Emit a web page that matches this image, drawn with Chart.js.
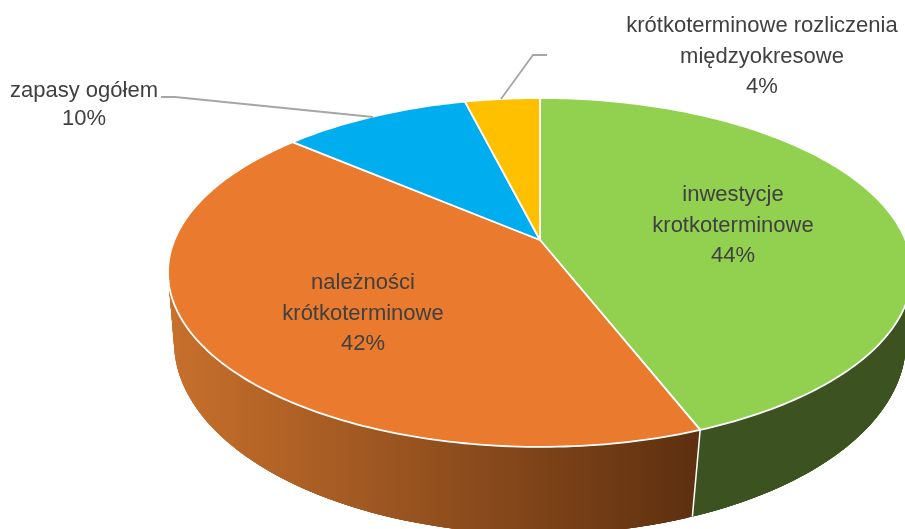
<!DOCTYPE html>
<html><head><meta charset="utf-8">
<script src="https://cdn.jsdelivr.net/npm/chart.js@4"></script>
<style>html,body{margin:0;padding:0;background:#fff}canvas{display:block}</style>
</head><body>
<canvas id="c" width="905" height="529"></canvas>
<script>
const categories = [
  ['inwestycje', 'krotkoterminowe'],
  ['należności', 'krótkoterminowe'],
  ['zapasy ogółem'],
  ['krótkoterminowe rozliczenia', 'międzyokresowe']
];
const shares = [44.1, 42.2, 9.8, 3.9];
const faceColors = ['#92D050', '#E97A2E', '#00ADEF', '#FFC000'];
const wallFrom = ['#3C5220', '#C8702C', '#006C96', '#A07800'];
const wallTo   = ['#3C5220', '#5E3010', '#006C96', '#A07800'];

const labelAnchors = [
  {x: 733, y: 195, step: 30.5},
  {x: 363, y: 283, step: 30.5},
  {x: 84,  y: 91,  step: 28},
  {x: 762, y: 26,  step: 30.5}
];
const leaderLines = [
  [[161, 97], [175, 97], [373, 117]],
  [[547, 55], [533, 55], [501, 99]]
];
const view = {
  top:    {persp: -0.186, rx: 2.574, ry: 1.186, dy: 0},
  bottom: {persp: -0.150, rx: 2.548, ry: 1.322, dy: 73.2}
};

function project(arc, angle, layer) {
  const r = arc.outerRadius, u = Math.cos(angle), v = Math.sin(angle);
  const w = 1 + layer.persp * v;
  return [arc.x + layer.rx * r * u / w, arc.y + layer.dy + layer.ry * r * v / w];
}
function sweepAngles(arc) {
  const out = [], n = Math.max(8, Math.ceil((arc.endAngle - arc.startAngle) * 180 / Math.PI));
  for (let i = 0; i <= n; i++) out.push(arc.startAngle + (arc.endAngle - arc.startAngle) * i / n);
  return out;
}
function trace(ctx, pts, move) {
  pts.forEach((p, i) => (i === 0 && move) ? ctx.moveTo(p[0], p[1]) : ctx.lineTo(p[0], p[1]));
}

const tiltedPie = {
  id: 'tiltedPie',
  beforeDatasetDraw(chart, args) {
    const ctx = chart.ctx, arcs = args.meta.data;
    ctx.save();
    ctx.lineJoin = 'round';
    arcs.forEach((arc, i) => {
      const g = ctx.createLinearGradient(170, 0, 695, 0);
      g.addColorStop(0, wallFrom[i]);
      g.addColorStop(1, wallTo[i]);
      ctx.fillStyle = g;
      const ts = sweepAngles(arc);
      // base outline of the wall
      ctx.beginPath();
      trace(ctx, ts.map(t => project(arc, t, view.top)), true);
      trace(ctx, ts.slice().reverse().map(t => project(arc, t, view.bottom)), false);
      ctx.closePath();
      ctx.fill();
      // overlapping strips fill the silhouette between both rims
      for (let k = 0; k < ts.length - 1; k++) {
        const next = ts[Math.min(k + 3, ts.length - 1)];
        const q = [project(arc, ts[k], view.top), project(arc, next, view.top),
                   project(arc, next, view.bottom), project(arc, ts[k], view.bottom)];
        ctx.beginPath();
        trace(ctx, q, true);
        ctx.closePath();
        ctx.fill();
      }
    });
    arcs.forEach(arc => {
      if (Math.sin(arc.endAngle) > 0) {
        const a = project(arc, arc.endAngle, view.top), b = project(arc, arc.endAngle, view.bottom);
        ctx.beginPath(); ctx.moveTo(a[0], a[1]); ctx.lineTo(b[0], b[1]);
        ctx.strokeStyle = '#fff'; ctx.lineWidth = 1.5; ctx.stroke();
      }
    });
    arcs.forEach((arc, i) => {
      ctx.beginPath();
      ctx.moveTo(arc.x, arc.y);
      trace(ctx, sweepAngles(arc).map(t => project(arc, t, view.top)), false);
      ctx.closePath();
      ctx.fillStyle = faceColors[i];
      ctx.fill();
      ctx.strokeStyle = '#fff';
      ctx.lineWidth = 1.8;
      ctx.stroke();
    });
    ctx.restore();
    return false;
  },
  afterDatasetsDraw(chart) {
    const ctx = chart.ctx;
    ctx.save();
    ctx.strokeStyle = '#A6A6A6';
    ctx.lineWidth = 1.8;
    leaderLines.forEach(l => {
      ctx.beginPath();
      trace(ctx, l, true);
      ctx.stroke();
    });
    ctx.fillStyle = '#404040';
    ctx.font = '22px "Liberation Sans"';
    ctx.textAlign = 'center';
    ctx.textBaseline = 'middle';
    const total = shares.reduce((a, b) => a + b, 0);
    categories.forEach((lines, i) => {
      const all = lines.concat(Math.round(shares[i] / total * 100) + '%');
      all.forEach((t, k) => ctx.fillText(t, labelAnchors[i].x, labelAnchors[i].y + k * labelAnchors[i].step));
    });
    ctx.restore();
  }
};

new Chart(document.getElementById('c'), {
  type: 'pie',
  data: {
    labels: categories,
    datasets: [{data: shares, backgroundColor: faceColors, borderWidth: 0, hoverOffset: 0}]
  },
  options: {
    responsive: false,
    animation: false,
    events: [],
    layout: {padding: {left: 175, right: 0, top: 98, bottom: 147}},
    plugins: {legend: {display: false}, tooltip: {enabled: false}}
  },
  plugins: [tiltedPie]
});
</script>
</body></html>
